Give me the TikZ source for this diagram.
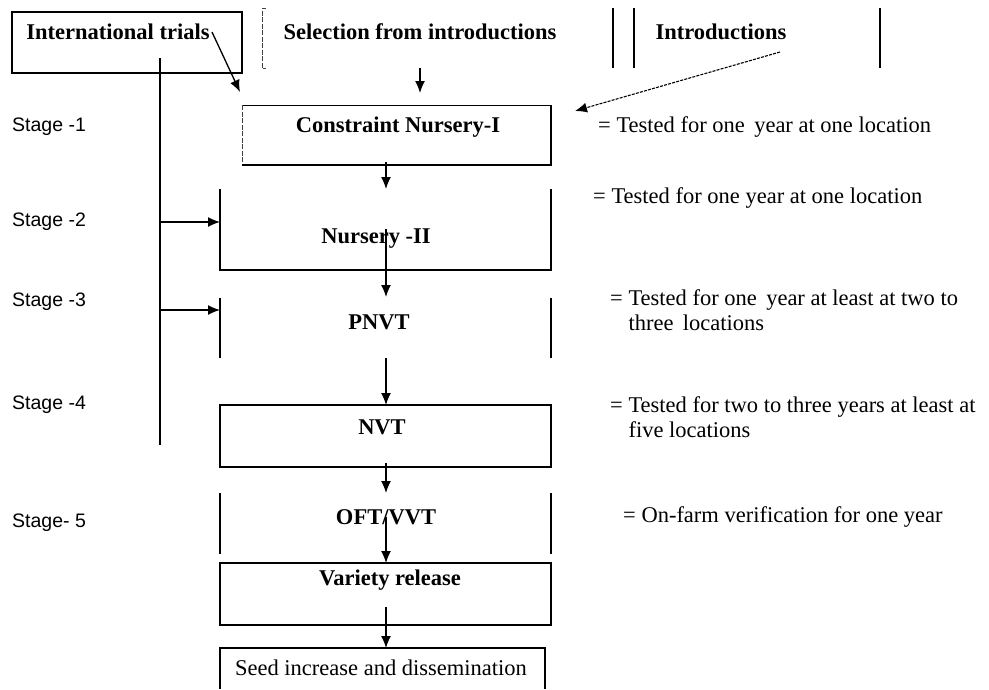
\documentclass[tikz,border=0pt]{standalone}
\usepackage{fontspec}
\setmainfont{Liberation Serif}
\newfontfamily\stagefont{Liberation Sans}
\usetikzlibrary{arrows.meta}
\begin{document}
\begin{tikzpicture}[x=1pt,y=-1pt,
  box/.style={rectangle, anchor=north west, inner sep=0pt, outer sep=0pt},
  edge/.style={line width=1.4pt, line join=miter},
  faint/.style={line width=0.8pt, black!75, dash pattern=on 5pt off 1.5pt},
  arr/.style={line width=1.3pt, -{Latex[length=12pt,width=10pt]}},
  dasharr/.style={line width=1.1pt, dash pattern=on 3pt off 1.2pt, -{Latex[length=12pt,width=10pt]}},
  head/.style={font=\fontsize{22.5}{24}\selectfont\bfseries, inner sep=0pt},
  note/.style={font=\fontsize{22.5}{25}\selectfont, anchor=west, inner sep=0pt, align=left},
  stage/.style={font=\stagefont\fontsize{19.5}{21}\selectfont, anchor=west, inner sep=0pt}]

% canvas
\fill[white] (0,0) rectangle (989,689);
\useasboundingbox (0,0) rectangle (989,689);

% box frames (outline drawn separately below)
\node[box, minimum width=230pt, minimum height=61pt] (it)    at (12,12)   {};
\node[box, minimum width=351pt, minimum height=60pt] (sel)   at (262,8)   {};
\node[box, minimum width=246pt, minimum height=60pt] (intro) at (634,8)   {};
\node[box, minimum width=309pt, minimum height=60pt] (cn)    at (242,105) {};
\node[box, minimum width=331pt, minimum height=81pt] (n2)    at (220,189) {};
\node[box, minimum width=331pt, minimum height=60pt] (pn)    at (220,298) {};
\node[box, minimum width=331pt, minimum height=62pt] (nv)    at (220,405) {};
\node[box, minimum width=331pt, minimum height=61pt] (of)    at (220,493) {};
\node[box, minimum width=331pt, minimum height=62pt] (vr)    at (220,563) {};
\node[box, minimum width=325pt, minimum height=41pt] (sd)    at (220,648) {};

% box labels
\node[head] (itt)    at (118,32)  {International trials};
\node[head] (selt)   at (420,32)  {Selection from introductions};
\node[head] (introt) at (721,32)  {Introductions};
\node[head] (cnt)    at (398,127) {Constraint Nursery-I};
\node[head] (n2t)    at (376,239) {Nursery -II};
\node[head] (pnt)    at (379,322) {PNVT};
\node[head] (nvt)    at (382,427) {NVT};
\node[head] (oft)    at (386,517) {OFT/VVT};
\node[head] (vrt)    at (390,580) {Variety release};
\node[font=\fontsize{22.5}{24}\selectfont, inner sep=0pt] (sdt) at (381,668) {Seed increase and dissemination};

% outlines
\draw[edge] (it.north west) rectangle (it.south east);
\draw[faint] ([xshift=4pt]sel.north west) -- (sel.north west) -- (sel.south west) -- ([xshift=4pt]sel.south west);
\draw[edge] (sel.north east) -- (sel.south east);
\draw[edge] (intro.north west) -- (intro.south west);
\draw[edge] (intro.north east) -- (intro.south east);
\draw[line width=0.9pt] (cn.north west) -- (cn.north east);
\draw[faint] (cn.north west) -- (cn.south west);
\draw[edge] (cn.north east) -- (cn.south east) -- (cn.south west);
\draw[edge] (n2.north west) -- (n2.south west) -- (n2.south east) -- (n2.north east);
\draw[edge] (pn.north west) -- (pn.south west);
\draw[edge] (pn.north east) -- (pn.south east);
\draw[edge] (nv.north west) rectangle (nv.south east);
\draw[edge] (of.north west) -- (of.south west);
\draw[edge] (of.north east) -- (of.south east);
\draw[edge] (vr.north west) rectangle (vr.south east);
\draw[edge] (sd.south west) -- (sd.north west) -- (sd.north east) -- (sd.south east);

% stage labels
\node[stage] (s1) at (12,127) {Stage -1};
\node[stage] (s2) at (12,222) {Stage -2};
\node[stage] (s3) at (12,302) {Stage -3};
\node[stage] (s4) at (12,405) {Stage -4};
\node[stage] (s5) at (12,523) {Stage- 5};

% notes
\node[note] (d1) at (598,127) {= Tested for one\, year at one location};
\node[note] (d2) at (593,198) {= Tested for one year at one location};
\node[note, anchor=north west] (d3) at (610,289) {= Tested for one\, year at least at two to\\\hphantom{=\ }three\, locations};
\node[note, anchor=north west] (d4) at (610,396) {= Tested for two to three years at least at\\\hphantom{=\ }five locations};
\node[note] (d5) at (623,517) {= On-farm verification for one year};

% spine from the international trials
\coordinate (spTop) at (160,58);
\coordinate (spBot) at (160,445);
\coordinate (j2) at (160,222);
\coordinate (j3) at (160,310);
\draw[edge] (spTop) -- (spBot);
\draw[arr] (j2) -- (j2 -| n2.west);
\draw[arr] (j3) -- (j3 -| pn.west);

% feeds into the first nursery
\coordinate (itStart) at (212,32);
\draw[arr] (itStart) -- ([shift={(-2pt,13pt)}]cn.north west);
\coordinate (selTip) at (420,93);
\draw[arr] (selt.south |- sel.south) -- (selTip);
\coordinate (introStart) at (780,52);
\coordinate (introTip) at (575,111);
\draw[dasharr] (introStart) -- (introTip);

% main column
\coordinate (col) at (386,0);
\draw[arr] ([yshift=3pt]cn.south -| col) -- (n2.north -| col);
\draw[arr] (n2t.north -| col) -- ([yshift=1pt]pn.north -| col);
\draw[arr] (pn.south -| col) -- (nv.north -| col);
\draw[arr] ([yshift=4pt]nv.south -| col) -- (of.north -| col);
\draw[arr] (oft.center -| col) -- (vr.north -| col);
\draw[arr] ([yshift=18pt]vr.south -| col) -- (sd.north -| col);
\end{tikzpicture}
\end{document}
